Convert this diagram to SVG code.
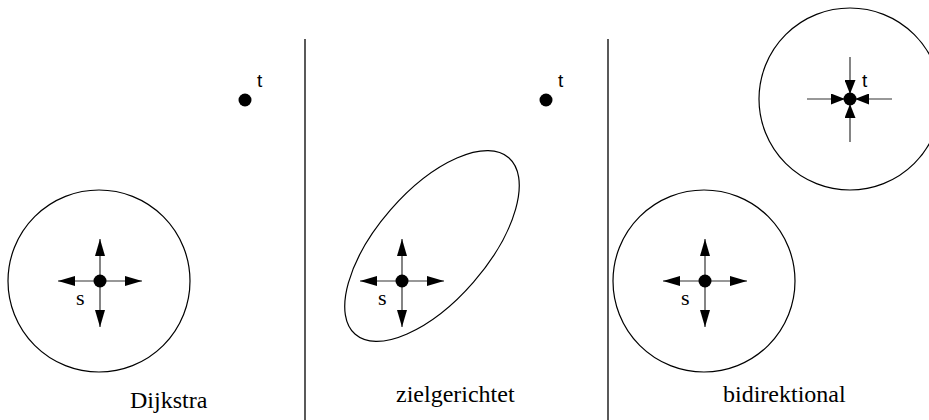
<svg xmlns="http://www.w3.org/2000/svg" width="929" height="420" viewBox="0 0 929 420">
<style>
.bd{fill:none;stroke:#000;stroke-width:1.2}
.sep{stroke:#000;stroke-width:1.3}
.dot{fill:#000}
.ar{stroke:#333;stroke-width:1.2;fill:none}
.lbl{font-family:'Liberation Serif','Times New Roman','DejaVu Serif',serif;font-size:24px;fill:#000}
.sl{font-family:'Liberation Serif','Times New Roman','DejaVu Serif',serif;font-size:22px;fill:#000}
.tl{font-family:'Liberation Sans',Arial,sans-serif;font-size:19px;fill:#000}
</style>
<defs>
<marker id="ah" viewBox="0 0 17 10" refX="17" refY="5" markerWidth="17" markerHeight="10" markerUnits="userSpaceOnUse" orient="auto">
<path d="M0,0 L17,5 L0,10 z" fill="#000"/>
</marker>
<marker id="ahi" viewBox="0 0 14 11" refX="14" refY="5.5" markerWidth="14" markerHeight="11" markerUnits="userSpaceOnUse" orient="auto">
<path d="M0,0 L14,5.5 L0,11 z" fill="#000"/>
</marker>
</defs>
<g id="separators">
<line class="sep" x1="305" y1="39" x2="305" y2="420"/>
<line class="sep" x1="608" y1="39" x2="608" y2="420"/>
</g>
<g id="dijkstra-region"><circle class="bd" cx="99" cy="281" r="91"/></g>
<g id="goal-region"><ellipse class="bd" cx="432" cy="246" rx="117" ry="55" transform="rotate(-49 432 246)"/></g>
<g id="bidir-region-s"><circle class="bd" cx="704" cy="281" r="91"/></g>
<g id="bidir-region-t"><circle class="bd" cx="850" cy="99" r="91"/></g>
<g id="connectors">
<line class="ar" x1="100" y1="281" x2="100" y2="239" marker-end="url(#ah)"/>
<line class="ar" x1="100" y1="281" x2="100" y2="327" marker-end="url(#ah)"/>
<line class="ar" x1="100" y1="281" x2="58" y2="281" marker-end="url(#ah)"/>
<line class="ar" x1="100" y1="281" x2="142" y2="281" marker-end="url(#ah)"/>
<line class="ar" x1="402" y1="281" x2="402" y2="239" marker-end="url(#ah)"/>
<line class="ar" x1="402" y1="281" x2="402" y2="327" marker-end="url(#ah)"/>
<line class="ar" x1="402" y1="281" x2="360" y2="281" marker-end="url(#ah)"/>
<line class="ar" x1="402" y1="281" x2="444" y2="281" marker-end="url(#ah)"/>
<line class="ar" x1="705" y1="281" x2="705" y2="239" marker-end="url(#ah)"/>
<line class="ar" x1="705" y1="281" x2="705" y2="327" marker-end="url(#ah)"/>
<line class="ar" x1="705" y1="281" x2="663" y2="281" marker-end="url(#ah)"/>
<line class="ar" x1="705" y1="281" x2="747" y2="281" marker-end="url(#ah)"/>
<line class="ar" x1="850" y1="57" x2="850" y2="94" marker-end="url(#ahi)"/>
<line class="ar" x1="850" y1="142" x2="850" y2="104" marker-end="url(#ahi)"/>
<line class="ar" x1="807" y1="99" x2="845" y2="99" marker-end="url(#ahi)"/>
<line class="ar" x1="892" y1="99" x2="855" y2="99" marker-end="url(#ahi)"/>
</g>
<g id="s1"><circle class="dot" cx="100" cy="281" r="6.5"/><text class="sl" x="76" y="305">s</text></g>
<g id="t1"><circle class="dot" cx="245" cy="100" r="6.5"/><text class="tl" x="257" y="87">t</text></g>
<g id="s2"><circle class="dot" cx="402" cy="281" r="6.5"/><text class="sl" x="378" y="305">s</text></g>
<g id="t2"><circle class="dot" cx="546" cy="100" r="6.5"/><text class="tl" x="558" y="87">t</text></g>
<g id="s3"><circle class="dot" cx="705" cy="281" r="6.5"/><text class="sl" x="681" y="305">s</text></g>
<g id="t3"><circle class="dot" cx="850" cy="99" r="6.5"/><text class="tl" x="862" y="87">t</text></g>
<g id="labels">
<text class="lbl" x="130" y="408">Dijkstra</text>
<text class="lbl" x="396" y="402">zielgerichtet</text>
<text class="lbl" x="723" y="402">bidirektional</text>
</g>
</svg>
